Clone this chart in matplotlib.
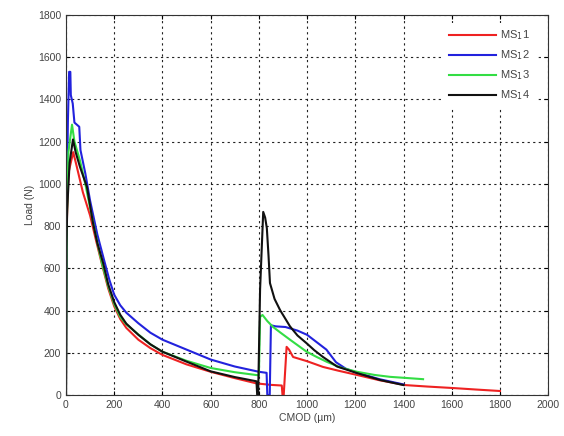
import numpy as np
import matplotlib.pyplot as plt

plt.rcParams['font.family'] = ['Liberation Sans', 'DejaVu Sans']

# --- CMOD (um) / Load (N) ---
ms1_x = [0, 3, 10, 30, 45, 70, 100, 125, 150, 175, 200, 225, 250, 300, 350, 400, 500, 600,
         700, 790, 850, 895, 898, 903, 915, 925, 942, 1000, 1066, 1130, 1207, 1300, 1407,
         1500, 1606, 1700, 1800]
ms1_y = [0, 800, 1050, 1150, 1080, 960, 850, 730, 615, 505, 420, 360, 318, 262, 222, 190,
         145, 110, 80, 55, 48, 45, 0, 0, 228, 215, 180, 160, 133, 115, 95, 70, 47, 40, 33,
         26, 19]

ms2_x = [0, 3, 8, 13, 18, 20, 28, 35, 55, 60, 80, 100, 130, 160, 180, 200, 225, 250, 300,
         350, 400, 500, 600, 700, 800, 832, 835, 845, 850, 870, 910, 960, 1000, 1080, 1120,
         1160, 1200, 1300, 1400]
ms2_y = [0, 900, 1300, 1530, 1530, 1420, 1380, 1290, 1270, 1160, 1050, 920, 760, 630, 545,
         475, 425, 390, 340, 295, 262, 215, 168, 135, 110, 105, 0, 0, 330, 325, 322, 305,
         285, 215, 155, 125, 108, 75, 50]

ms3_x = [0, 3, 10, 25, 35, 58, 80, 110, 130, 150, 175, 200, 225, 250, 300, 350, 400, 500,
         600, 700, 800, 805, 815, 835, 859, 890, 929, 998, 1040, 1082, 1140, 1207, 1280,
         1344, 1420, 1481]
ms3_y = [0, 800, 1150, 1280, 1200, 1110, 1000, 830, 720, 620, 515, 430, 370, 335, 287,
         240, 205, 162, 128, 108, 93, 370, 379, 350, 322, 295, 262, 205, 180, 157, 130,
         110, 95, 86, 80, 75]

ms4_x = [0, 2, 5, 15, 29, 40, 58, 87, 112, 130, 154, 175, 200, 225, 250, 300, 350, 400,
         500, 600, 700, 790, 793, 797, 805, 818, 826, 833, 840, 846, 865, 888, 929, 960,
         998, 1030, 1066, 1124, 1207, 1303, 1400]
ms4_y = [0, 700, 880, 1100, 1210, 1150, 1080, 985, 815, 720, 625, 525, 440, 380, 338, 285,
         240, 205, 158, 112, 85, 65, 0, 0, 500, 867, 840, 790, 660, 530, 455, 402, 325, 282,
         245, 212, 180, 135, 104, 71, 47]

labels = ['MS$_1$1', 'MS$_1$2', 'MS$_1$3', 'MS$_1$4']
colors = ['#ee2222', '#2222dd', '#33dd44', '#111111']

fig = plt.figure(figsize=(5.64, 4.36), dpi=100)
ax = fig.add_axes([0.117, 0.094, 0.855, 0.872])

series = [(ms1_x, ms1_y), (ms2_x, ms2_y), (ms3_x, ms3_y), (ms4_x, ms4_y)]
for (x, y), lab, c in zip(series, labels, colors):
    ax.plot(x, y, color=c, lw=1.5, label=lab)

ax.set_xlim(0, 2000)
ax.set_ylim(0, 1800)
ax.set_xticks(np.arange(0, 2001, 200))
ax.set_yticks(np.arange(0, 1801, 200))
ax.tick_params(direction='in', top=True, right=True, labelsize=7.5,
               labelcolor='#444444', length=3)
ax.grid(True, color='#222222', linestyle=(0, (2, 3)), lw=0.8)
for s in ax.spines.values():
    s.set_color('#333333')

ax.set_xlabel('CMOD (µm)', fontsize=7.5, color='#444444', labelpad=2)
ax.set_ylabel('Load (N)', fontsize=7.5, color='#444444', labelpad=2)

leg = ax.legend(loc='upper right', bbox_to_anchor=(0.979, 0.984), borderaxespad=0.2,
                fontsize=8, handlelength=4.2, framealpha=1, fancybox=False,
                edgecolor='none', borderpad=0.5, labelspacing=0.55, handletextpad=0.4)
for t in leg.get_texts():
    t.set_color('#444444')

fig.savefig('out.png', dpi=100)
